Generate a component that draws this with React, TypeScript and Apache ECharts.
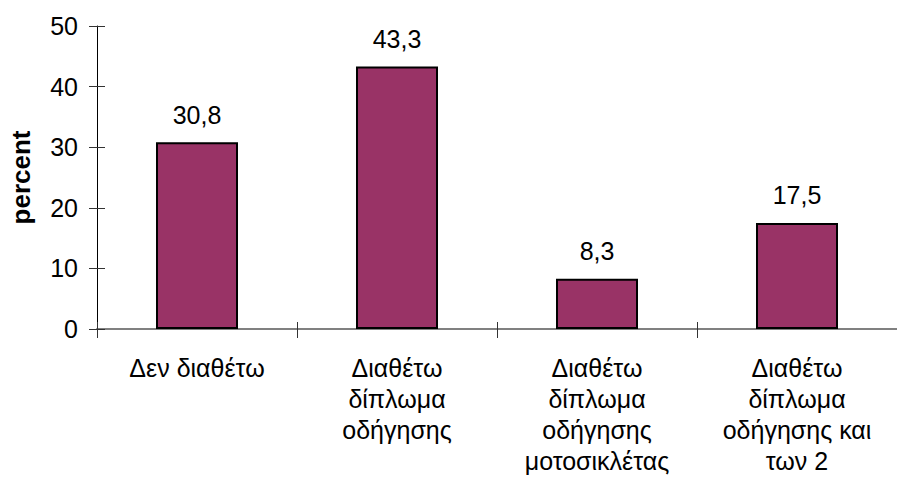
import React, { useEffect, useRef } from "react";
import * as echarts from "echarts";

const categories = [
  "Δεν διαθέτω",
  "Διαθέτω\nδίπλωμα\nοδήγησης",
  "Διαθέτω\nδίπλωμα\nοδήγησης\nμοτοσικλέτας",
  "Διαθέτω\nδίπλωμα\nοδήγησης και\nτων 2",
];
const values = [30.8, 43.3, 8.3, 17.5];
const yMin = 0;
const yMax = 50;
const yInterval = 10;

const FONT = "'Liberation Sans', Arial, sans-serif";

export default function App() {
  const ref = useRef<HTMLDivElement>(null);
  useEffect(() => {
    if (!ref.current) return;
    const chart = echarts.init(ref.current, undefined, { renderer: "svg" });
    chart.setOption({
      animation: false,
      backgroundColor: "#ffffff",
      grid: { left: 96, top: 26, bottom: 148, width: 808 },
      xAxis: [
        {
          type: "category",
          data: categories,
          position: "bottom",
          axisLine: { show: true, lineStyle: { color: "#808080", width: 2 } },
          axisTick: { show: true, inside: false, length: 9, lineStyle: { color: "#333", width: 1 } },
          axisLabel: {
            interval: 0,
            margin: 23,
            color: "#000",
            fontFamily: FONT,
            fontSize: 25,
            lineHeight: 31,
          },
        },
        {
          type: "category",
          data: categories,
          position: "bottom",
          axisLine: { show: false },
          axisTick: { show: true, inside: true, length: 7, lineStyle: { color: "#333", width: 1 } },
          axisLabel: { show: false },
        },
      ],
      yAxis: [
        {
          type: "value",
          min: yMin,
          max: yMax,
          interval: yInterval,
          name: "percent",
          nameLocation: "middle",
          nameGap: 63,
          nameTextStyle: { color: "#000", fontFamily: FONT, fontSize: 26, fontWeight: "bold" },
          axisLine: { show: true, lineStyle: { color: "#000", width: 1 } },
          axisTick: { show: true, inside: false, length: 8, lineStyle: { color: "#333", width: 1 } },
          axisLabel: { margin: 19, color: "#000", fontFamily: FONT, fontSize: 25 },
          splitLine: { show: false },
        },
        {
          type: "value",
          min: yMin,
          max: yMax,
          interval: yInterval,
          position: "left",
          axisLine: { show: false },
          axisTick: { show: true, inside: true, length: 8, lineStyle: { color: "#333", width: 1 } },
          axisLabel: { show: false },
          splitLine: { show: false },
        },
      ],
      series: [
        {
          type: "bar",
          data: values,
          barWidth: 82,
          itemStyle: { color: "#993366", borderColor: "#000", borderWidth: 2 },
          label: {
            show: true,
            position: "top",
            distance: 15,
            color: "#000",
            fontFamily: FONT,
            fontSize: 25,
            formatter: (p: any) => String(p.value).replace(".", ","),
          },
        },
      ],
    });
    return () => chart.dispose();
  }, []);
  return (
    <div
      ref={ref}
      style={{ position: "absolute", left: 0, top: 0, width: 897, height: 477 }}
    />
  );
}
